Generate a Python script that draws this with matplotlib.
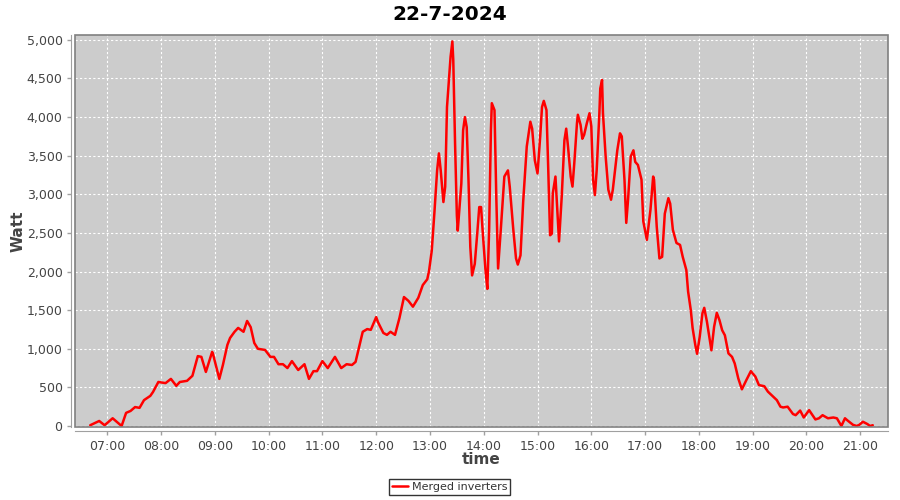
import pandas as pd
import matplotlib
matplotlib.use("Agg")
import matplotlib.pyplot as plt
import matplotlib.dates as mdates
from matplotlib.ticker import MultipleLocator, FuncFormatter
from matplotlib.patches import Rectangle

# Data (time of day, merged inverter power in W)
times = [
    "06:41", "06:51", "06:57", "07:06", "07:16", "07:21", "07:26", "07:31", "07:36", "07:41",
    "07:48", "07:51", "07:57", "08:05", "08:11", "08:17", "08:21", "08:29", "08:35", "08:41",
    "08:45", "08:50", "08:57", "08:58", "09:05", "09:09", "09:14", "09:17", "09:22", "09:26",
    "09:32", "09:36", "09:40", "09:44", "09:48", "09:56", "10:02", "10:06", "10:11", "10:16",
    "10:21", "10:26", "10:33", "10:40", "10:45", "10:50", "10:54", "11:00", "11:06", "11:14",
    "11:21", "11:27", "11:33", "11:37", "11:41", "11:45", "11:50", "11:54", "12:00", "12:02",
    "12:08", "12:12", "12:16", "12:21", "12:26", "12:31", "12:36", "12:41", "12:47", "12:52",
    "12:57", "12:59", "13:02", "13:05", "13:08", "13:10", "13:12", "13:15", "13:17", "13:19",
    "13:23", "13:25", "13:26", "13:28", "13:30", "13:31", "13:35", "13:37", "13:39", "13:41",
    "13:43", "13:45", "13:47", "13:50", "13:53", "13:55", "13:57", "13:59", "14:02", "14:04",
    "14:06", "14:08", "14:09", "14:12", "14:14", "14:16", "14:19", "14:23", "14:27", "14:29",
    "14:33", "14:36", "14:38", "14:41", "14:44", "14:48", "14:52", "14:54", "14:57", "15:00",
    "15:03", "15:05", "15:07", "15:10", "15:12", "15:14", "15:16", "15:17", "15:20", "15:22",
    "15:24", "15:27", "15:30", "15:32", "15:34", "15:37", "15:39", "15:41", "15:44", "15:45",
    "15:48", "15:50", "15:52", "15:55", "15:58", "16:00", "16:02", "16:04", "16:06", "16:09",
    "16:10", "16:12", "16:13", "16:16", "16:19", "16:22", "16:24", "16:29", "16:32", "16:34",
    "16:37", "16:39", "16:41", "16:44", "16:47", "16:49", "16:52", "16:56", "16:58", "17:02",
    "17:06", "17:09", "17:10", "17:13", "17:16", "17:19", "17:22", "17:26", "17:28", "17:31",
    "17:35", "17:39", "17:42", "17:46", "17:48", "17:51", "17:53", "17:56", "17:58", "18:01",
    "18:04", "18:06", "18:09", "18:14", "18:17", "18:20", "18:23", "18:26", "18:29", "18:33",
    "18:37", "18:40", "18:44", "18:48", "18:53", "18:58", "19:03", "19:07", "19:13", "19:17",
    "19:22", "19:27", "19:31", "19:34", "19:39", "19:45", "19:48", "19:53", "19:57", "20:03",
    "20:10", "20:14", "20:18", "20:24", "20:30", "20:34", "20:39", "20:43", "20:46", "20:52",
    "20:56", "20:59", "21:03", "21:08", "21:11", "21:14",
]
watt = [
    10, 65, 10, 100, 0, 170, 195, 245, 235, 335,
    390, 440, 570, 555, 610, 520, 570, 585, 650, 905,
    895, 700, 960, 930, 610, 790, 1050, 1140, 1220, 1270,
    1220, 1360, 1280, 1075, 1000, 985, 895, 895, 800, 800,
    750, 840, 725, 800, 610, 710, 710, 840, 750, 895,
    750, 800, 790, 830, 1025, 1220, 1255, 1245, 1410, 1345,
    1205, 1180, 1220, 1180, 1400, 1670, 1620, 1545, 1660, 1825,
    1900, 2010, 2270, 2770, 3310, 3530, 3310, 2900, 3100, 4130,
    4780, 4980, 4740, 3660, 2730, 2530, 3140, 3830, 4000, 3870,
    3180, 2320, 1950, 2100, 2530, 2835, 2835, 2490, 2010, 1775,
    2530, 3830, 4180, 4090, 2970, 2040, 2540, 3230, 3310, 3100,
    2540, 2170, 2090, 2210, 2905, 3620, 3940, 3850, 3440, 3270,
    3750, 4130, 4210, 4090, 3310, 2470, 2490, 3010, 3230, 2800,
    2390, 2970, 3700, 3850, 3620, 3230, 3100, 3400, 3920, 4030,
    3900, 3720, 3770, 3920, 4050, 3880, 3190, 2990, 3310, 4050,
    4370, 4480, 4050, 3490, 3060, 2930, 3060, 3570, 3790, 3750,
    3190, 2630, 2930, 3490, 3570, 3420, 3380, 3190, 2650, 2410,
    2800, 3230, 3190, 2580, 2170, 2190, 2750, 2950, 2880, 2540,
    2370, 2345, 2190, 2020, 1740, 1500, 1270, 1050, 935, 1160,
    1460, 1530, 1350, 980, 1285, 1465, 1370, 1240, 1175, 940,
    895, 810, 615, 475, 595, 710, 640, 530, 515, 445,
    390, 335, 250, 240, 250, 155, 140, 200, 110, 205,
    85, 100, 140, 100, 110, 100, 0, 100, 70, 15,
    0, 15, 55, 25, 0, 10,
]

day = "2024-07-22"
df = pd.DataFrame({"time": pd.to_datetime([day + " " + t for t in times]), "watt": watt})

fig = plt.figure(figsize=(9, 5), dpi=100)
ax = fig.add_axes([75 / 900, 1 - 427 / 500, (888 - 75) / 900, (427 - 35) / 500])
ax.set_facecolor("#cccccc")

ax.plot(df["time"], df["watt"], color="#ff0000", linewidth=1.8,
        solid_joinstyle="round", solid_capstyle="round", label="Merged inverters")

ax.set_xlim(pd.Timestamp(day + " 06:24"), pd.Timestamp(day + " 21:31"))
ax.set_ylim(-13, 5063)

ax.xaxis.set_major_locator(mdates.HourLocator(byhour=range(7, 22)))
ax.xaxis.set_major_formatter(mdates.DateFormatter("%H:%M"))
ax.yaxis.set_major_locator(MultipleLocator(500))
ax.yaxis.set_major_formatter(FuncFormatter(lambda v, p: f"{int(v):,}"))

ax.grid(True, color="white", linestyle=(0, (2, 2)), linewidth=0.8)
ax.set_axisbelow(True)

# axis lines sit a few pixels outside the plot border
for side in ["top", "right"]:
    ax.spines[side].set_visible(False)
ax.spines["left"].set_position(("outward", 3))
ax.spines["bottom"].set_position(("outward", 3))
ax.spines["left"].set_color("#a0a0a0")
ax.spines["bottom"].set_color("#a0a0a0")
ax.add_patch(Rectangle((0, 0), 1, 1, transform=ax.transAxes, fill=False,
                       edgecolor="#808080", linewidth=1.2, clip_on=False, zorder=5))

ax.tick_params(axis="both", colors="#a0a0a0", length=3, width=1, labelsize=9,
               labelcolor="#444444", pad=3)

ax.set_xlabel("time", fontsize=11, fontweight="bold", color="#444444", labelpad=0)
ax.set_ylabel("Watt", fontsize=11, fontweight="bold", color="#444444", labelpad=1)
fig.text(0.5, 1 - 14 / 500, "22-7-2024", ha="center", va="center",
         fontsize=14.5, fontweight="bold", color="black")

leg = fig.legend(loc="center", bbox_to_anchor=(449.5 / 900, 1 - 487 / 500),
                 frameon=True, fancybox=False, fontsize=8, handlelength=1.5,
                 handletextpad=0.3, borderpad=0.25, borderaxespad=0)
leg.get_frame().set_edgecolor("black")
leg.get_frame().set_linewidth(1)
for txt in leg.get_texts():
    txt.set_color("#333333")

fig.savefig("out.png", dpi=100)
